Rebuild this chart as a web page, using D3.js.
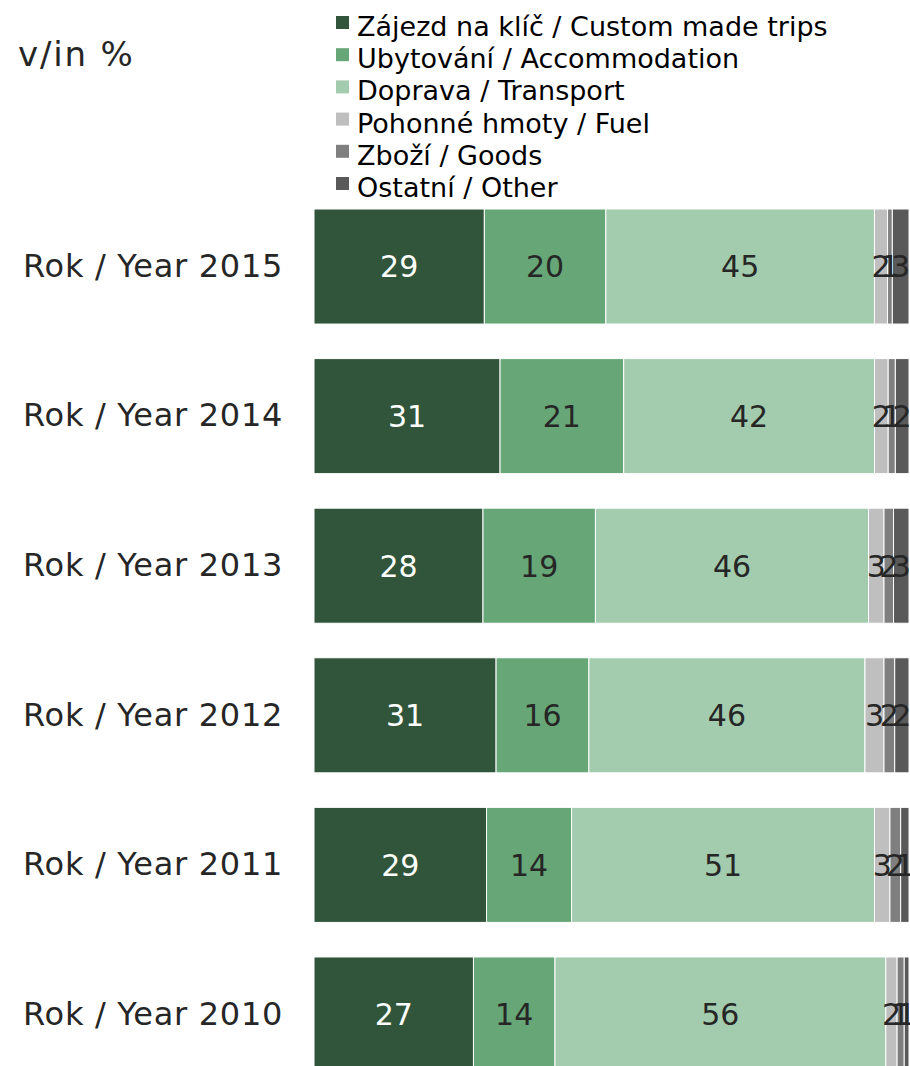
<!DOCTYPE html>
<html>
<head>
<meta charset="utf-8">
<script src="https://cdn.jsdelivr.net/npm/d3@7/dist/d3.min.js"></script>
<style>
  html, body { margin: 0; padding: 0; background: #fff; }
  svg { display: block; font-family: "DejaVu Sans", Verdana, sans-serif; }
</style>
</head>
<body>
<svg id="chart" width="910" height="1066"></svg>
<script>
const categories = ["Rok / Year 2015", "Rok / Year 2014", "Rok / Year 2013", "Rok / Year 2012", "Rok / Year 2011", "Rok / Year 2010"];
const seriesNames = ["Zájezd na klíč / Custom made trips", "Ubytování / Accommodation", "Doprava / Transport", "Pohonné hmoty / Fuel", "Zboží / Goods", "Ostatní / Other"];
const customTrips   = [28.6, 31.3, 28.4, 30.6, 29.0, 26.8];
const accommodation = [20.4, 20.8, 18.9, 15.6, 14.3, 13.7];
const transport     = [45.1, 42.2, 45.9, 46.4, 50.9, 55.6];
const fuel          = [2.2, 2.3, 2.6, 3.2, 2.6, 1.9];
const goods         = [0.8, 1.2, 1.6, 1.8, 1.8, 1.2];
const other         = [2.8, 2.3, 2.6, 2.4, 1.4, 0.8];
const colors = ["#31553b", "#67a677", "#a3cbad", "#bfbfbf", "#7f7f7f", "#595959"];
const labelColors = ["#ffffff", "#262626", "#262626", "#262626", "#262626", "#262626"];

const series = [customTrips, accommodation, transport, fuel, goods, other];
const rows = categories.map((c, i) => {
  const r = { cat: c };
  seriesNames.forEach((s, j) => r[s] = series[j][i]);
  return r;
});

const svg = d3.select("#chart");
const x = d3.scaleLinear().domain([0, 100]).range([314, 909]);
const y = d3.scaleBand().domain(categories).range([209, 1072]).paddingInner(0.231).paddingOuter(0);

const stacked = d3.stack().keys(seriesNames).offset(d3.stackOffsetExpand)(rows);

const g = svg.append("g");
stacked.forEach((layer, j) => {
  const lg = g.append("g");
  lg.selectAll("rect").data(layer).join("rect")
    .attr("x", d => x(d[0] * 100))
    .attr("y", d => y(d.data.cat))
    .attr("width", d => x(d[1] * 100) - x(d[0] * 100))
    .attr("height", y.bandwidth())
    .attr("fill", colors[j])
    .attr("stroke", "#ffffff")
    .attr("stroke-width", 1);
});
stacked.forEach((layer, j) => {
  g.append("g").selectAll("text").data(layer).join("text")
    .attr("x", d => x((d[0] + d[1]) / 2 * 100))
    .attr("y", d => y(d.data.cat) + y.bandwidth() / 2)
    .attr("dy", "0.36em")
    .attr("text-anchor", "middle")
    .attr("font-size", 30)
    .attr("fill", labelColors[j])
    .text(d => Math.round(d.data[seriesNames[j]]));
});

// category axis
const yAxis = d3.axisLeft(y).tickSize(0).tickPadding(0);
const ax = svg.append("g").attr("transform", "translate(283,0)").call(yAxis);
ax.select(".domain").remove();
ax.selectAll("text").attr("font-size", 32).attr("fill", "#262626")
  .attr("letter-spacing", 0.7)
  .attr("font-family", "DejaVu Sans, Verdana, sans-serif");

// title
svg.append("text").attr("x", 18).attr("y", 66).attr("font-size", 34)
  .attr("letter-spacing", 1.8).attr("fill", "#262626").text("v/in %");

// legend
const lg = svg.append("g");
seriesNames.forEach((s, j) => {
  const base = 36 + j * 32.2;
  lg.append("rect").attr("x", 336).attr("y", base - 20).attr("width", 13).attr("height", 13).attr("fill", colors[j]);
  lg.append("text").attr("x", 357).attr("y", base).attr("font-size", 27).attr("fill", "#000").text(s);
});
</script>
</body>
</html>
